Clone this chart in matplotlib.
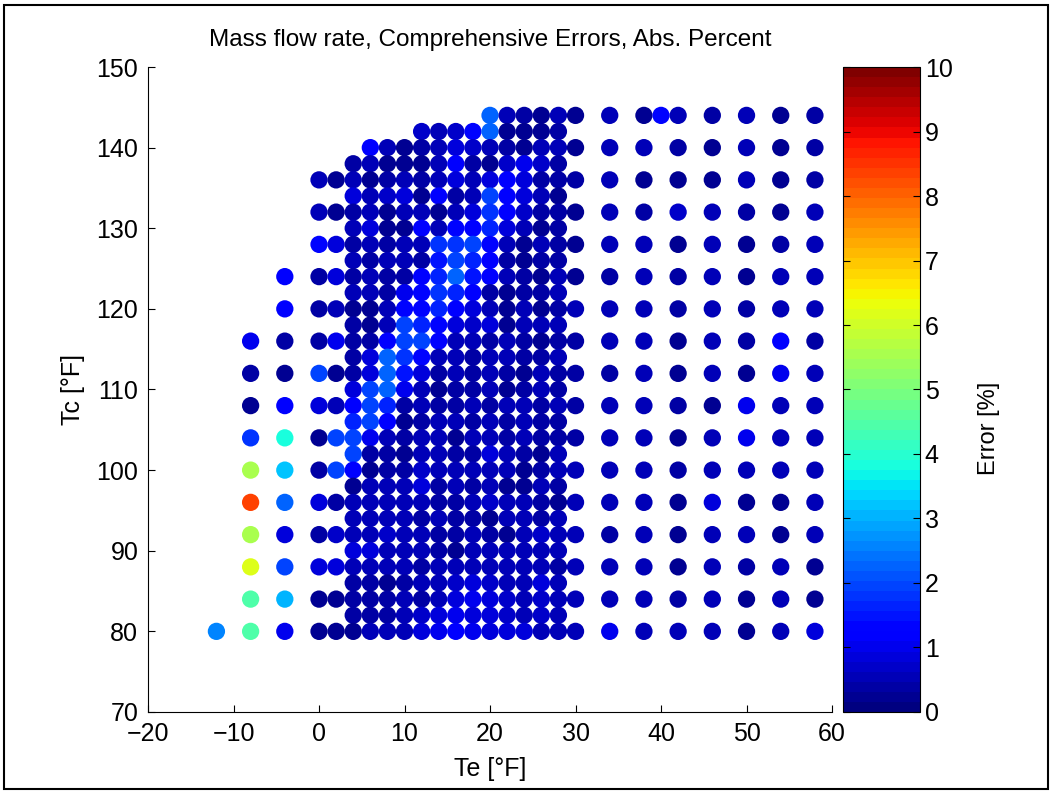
import numpy as np
import matplotlib
matplotlib.use("Agg")
import matplotlib.pyplot as plt
from matplotlib.patches import Rectangle

plt.rcParams['font.family'] = ['Liberation Sans', 'DejaVu Sans']

# sparse columns on the cold side (Te, Tc values, error %)
te_m12_tc = [80]
te_m12_err = [2.6]

te_m8_tc = [80, 84, 88, 92, 96, 100, 104, 108, 112, 116]
te_m8_err = [4.4, 4.4, 6.1, 5.5, 8.4, 5.6, 1.8, 0.3, 0.4, 1.0]

te_m4_tc = [80, 84, 88, 92, 96, 100, 104, 108, 112, 116, 120, 124]
te_m4_err = [1.0, 3.0, 2.0, 0.9, 2.2, 3.2, 3.75, 1.1, 0.3, 0.4, 1.2, 1.2]

te_0_tc = [80, 84, 88, 92, 96, 100, 104, 108, 112, 116, 120, 124, 128,
           132, 136]
te_0_err = [0.3, 0.3, 0.9, 0.4, 0.9, 0.4, 0.3, 0.9, 2.0, 0.4, 0.4, 0.4,
            1.4, 0.6, 0.6]

te_2_tc = [80, 84, 88, 92, 96, 100, 104, 108, 112, 116, 120, 124, 128,
           132, 136]
te_2_err = [0.3, 0.3, 0.8, 0.7, 0.4, 1.9, 2.0, 0.5, 0.3, 1.0, 0.5, 0.8,
            0.9, 0.2, 0.2]

# dense block, Te = 4 .. 28 every 2 F, Tc rows from 144 down to 80
dense_te = [4, 6, 8, 10, 12, 14, 16, 18, 20, 22, 24, 26, 28]
dense_tc = [144, 142, 140, 138, 136, 134, 132, 130, 128, 126, 124, 122,
            120, 118, 116, 114, 112, 110, 108, 106, 104, 102, 100, 98,
            96, 94, 92, 90, 88, 86, 84, 82, 80]
dense_err_txt = """
nan nan nan nan nan nan nan nan 2.3 0.5 0.4 0.3 0.6
nan nan nan nan 0.7 0.6 0.7 1.4 2.2 0.3 0.3 0.3 0.4
nan 1.2 0.5 0.3 0.4 0.5 0.8 0.7 0.5 0.4 0.3 0.6 0.5
0.4 0.6 0.2 0.3 0.2 0.6 1.1 0.4 0.3 0.7 1.0 0.7 0.4
0.6 0.3 0.4 0.6 0.4 0.5 0.8 0.5 0.9 1.2 0.9 0.4 0.4
0.8 0.5 0.7 0.9 0.3 1.1 0.4 0.6 2.0 1.1 0.8 0.5 0.3
0.4 0.5 0.3 0.5 0.5 0.3 0.6 0.8 1.8 1.2 0.7 0.4 0.4
0.6 0.8 0.3 0.2 1.2 0.6 1.4 1.2 1.6 0.9 0.6 0.3 0.4
0.4 0.6 0.4 0.6 0.6 1.8 1.8 1.9 1.3 0.6 0.3 0.5 0.4
0.6 0.4 0.5 0.6 0.4 1.5 2.0 1.6 1.1 0.4 0.3 0.4 0.4
0.4 0.6 0.4 0.4 1.1 1.6 2.2 1.5 1.2 0.5 0.4 0.3 0.6
0.5 0.5 0.4 1.0 1.4 1.8 1.6 1.2 0.4 0.3 0.4 0.4 0.5
0.3 0.3 0.5 1.4 1.4 1.6 1.2 0.8 0.5 0.3 0.5 0.3 0.4
0.4 0.3 0.6 1.9 1.6 1.4 0.9 0.7 0.8 0.3 0.5 0.6 0.5
0.4 0.4 1.2 1.9 2.0 1.1 0.5 0.5 0.4 0.5 0.4 0.3 0.4
0.4 0.8 2.3 1.8 1.3 0.6 0.5 0.4 0.5 0.6 0.4 0.4 0.5
0.4 0.9 2.3 1.5 0.9 0.4 0.5 0.4 0.5 0.4 0.3 0.6 0.4
0.9 2.0 2.2 1.0 0.5 0.3 0.4 0.4 0.6 0.3 0.4 0.6 0.4
1.1 2.0 1.6 0.4 0.5 0.4 0.4 0.5 0.4 0.6 0.5 0.4 0.5
1.7 2.0 1.1 0.3 0.4 0.5 0.6 0.4 0.5 0.4 0.6 0.4 0.4
2.0 1.0 0.5 0.4 0.5 0.6 0.3 0.5 0.5 0.4 0.6 0.4 0.4
2.0 0.4 0.4 0.3 0.6 0.5 0.4 0.4 0.8 0.5 0.4 0.3 0.5
1.2 0.3 0.4 0.4 0.7 0.5 0.6 0.5 0.6 0.5 0.3 0.4 0.5
0.3 0.5 0.5 0.6 0.8 0.4 0.5 0.4 0.5 0.3 0.3 0.5 0.4
0.5 0.6 0.6 0.5 0.6 0.4 0.4 0.6 0.7 0.5 0.5 0.4 0.3
0.6 0.5 0.5 0.6 0.4 0.5 0.4 0.4 0.3 0.5 0.5 0.4 0.5
0.6 0.6 0.7 0.5 0.5 0.4 0.4 0.5 0.4 0.3 0.6 0.7 0.5
0.8 0.9 0.5 0.6 0.5 0.4 0.3 0.5 0.6 0.5 0.5 0.5 0.5
0.6 0.5 0.6 0.5 0.4 0.6 0.5 0.6 0.5 0.6 0.6 0.5 0.4
0.4 0.4 0.3 0.4 0.6 0.6 0.7 0.8 0.7 0.6 0.6 0.9 0.6
0.4 0.4 0.4 0.5 0.4 0.6 0.8 1.0 0.9 0.7 0.6 0.7 0.6
0.4 0.4 0.4 0.5 0.7 0.9 1.0 0.9 0.9 0.7 0.6 0.7 0.6
0.3 0.5 0.5 0.5 0.9 1.0 1.1 1.0 0.8 0.8 0.8 0.6 0.6
"""

# warm side, every 4 F in Tc from 144 down to 80
wide_te = [30, 34, 38, 42, 46, 50, 54, 58]
wide_tc = [144, 140, 136, 132, 128, 124, 120, 116, 112, 108, 104, 100,
           96, 92, 88, 84, 80]
wide_err_txt = """
0.3 0.6 0.3 0.5 0.4 0.6 0.3 0.4
0.3 0.5 0.5 0.4 0.3 0.5 0.3 0.4
0.4 0.6 0.3 0.3 0.3 0.5 0.3 0.4
0.3 0.5 0.4 0.7 0.5 0.4 0.3 0.5
0.3 0.5 0.6 0.3 0.5 0.3 0.4 0.5
0.3 0.4 0.5 0.4 0.6 0.3 0.5 0.5
0.5 0.5 0.5 0.4 0.6 0.4 0.5 0.5
0.4 0.5 0.6 0.3 0.6 0.4 1.1 0.4
0.4 0.4 0.6 0.3 0.5 0.3 1.0 0.5
0.4 0.5 0.6 0.4 0.3 1.0 0.5 0.5
0.4 0.5 0.6 0.3 0.5 1.0 0.5 0.6
0.5 0.5 0.6 0.4 0.6 0.6 0.5 0.6
0.5 0.5 0.6 0.3 0.9 0.3 0.3 0.5
0.5 0.4 0.5 0.3 0.5 0.5 0.3 0.5
0.5 0.5 0.6 0.3 0.5 0.4 0.5 0.3
0.5 0.5 0.5 0.4 0.5 0.3 0.5 0.3
0.5 1.0 0.5 0.5 0.6 0.3 0.5 0.8
"""

# one odd extra point
extra_te = [40]
extra_tc = [144]
extra_err = [1.3]


def parse_table(txt):
    rows = [line.split() for line in txt.strip().splitlines()]
    return np.array([[float(v) for v in r] for r in rows])


# gather everything into flat arrays
te_all, tc_all, err_all = [], [], []
for te, tcs, errs in [(-12, te_m12_tc, te_m12_err), (-8, te_m8_tc, te_m8_err),
                      (-4, te_m4_tc, te_m4_err), (0, te_0_tc, te_0_err),
                      (2, te_2_tc, te_2_err)]:
    te_all += [te] * len(tcs)
    tc_all += tcs
    err_all += errs

for cols, rows, txt in [(dense_te, dense_tc, dense_err_txt),
                        (wide_te, wide_tc, wide_err_txt)]:
    tab = parse_table(txt)
    for i, tc in enumerate(rows):
        for j, te in enumerate(cols):
            if not np.isnan(tab[i, j]):
                te_all.append(te)
                tc_all.append(tc)
                err_all.append(tab[i, j])

te_all += extra_te
tc_all += extra_tc
err_all += extra_err

cmap = plt.get_cmap('jet').resampled(64)

fig = plt.figure(figsize=(10.52, 7.94), dpi=100)
ax = fig.add_axes([0.1407, 0.1033, 0.6502, 0.8123])

sc = ax.scatter(te_all, tc_all, c=err_all, cmap=cmap, vmin=0, vmax=10,
                s=155, linewidths=0)

ax.set_xlim(-20, 60)
ax.set_ylim(70, 150)
ax.set_xticks(range(-20, 61, 10))
ax.set_yticks(range(70, 151, 10))
ax.spines['top'].set_visible(False)
ax.spines['right'].set_visible(False)
ax.tick_params(direction='in', length=5, labelsize=18, pad=7)
ax.set_xlabel('Te [°F]', fontsize=18, labelpad=8)
ax.set_ylabel('Tc [°F]', fontsize=18, labelpad=8)
ax.set_title('Mass flow rate, Comprehensive Errors, Abs. Percent',
             fontsize=17.5, pad=15)

cax = fig.add_axes([0.8013, 0.1033, 0.0732, 0.8123])
cb = fig.colorbar(sc, cax=cax, ticks=range(0, 11))
cb.outline.set_linewidth(0.8)
cax.tick_params(direction='in', length=5, labelsize=18, left=True, right=True)
cb.set_label('Error [%]', fontsize=17)
cax.yaxis.set_label_coords(1.75, 0.44)

# black frame round the whole figure
fig.patches.append(Rectangle((0.004, 0.006), 0.992, 0.988,
                             transform=fig.transFigure, fill=False,
                             ec='black', lw=1.5))

fig.savefig('out.png', dpi=100)
